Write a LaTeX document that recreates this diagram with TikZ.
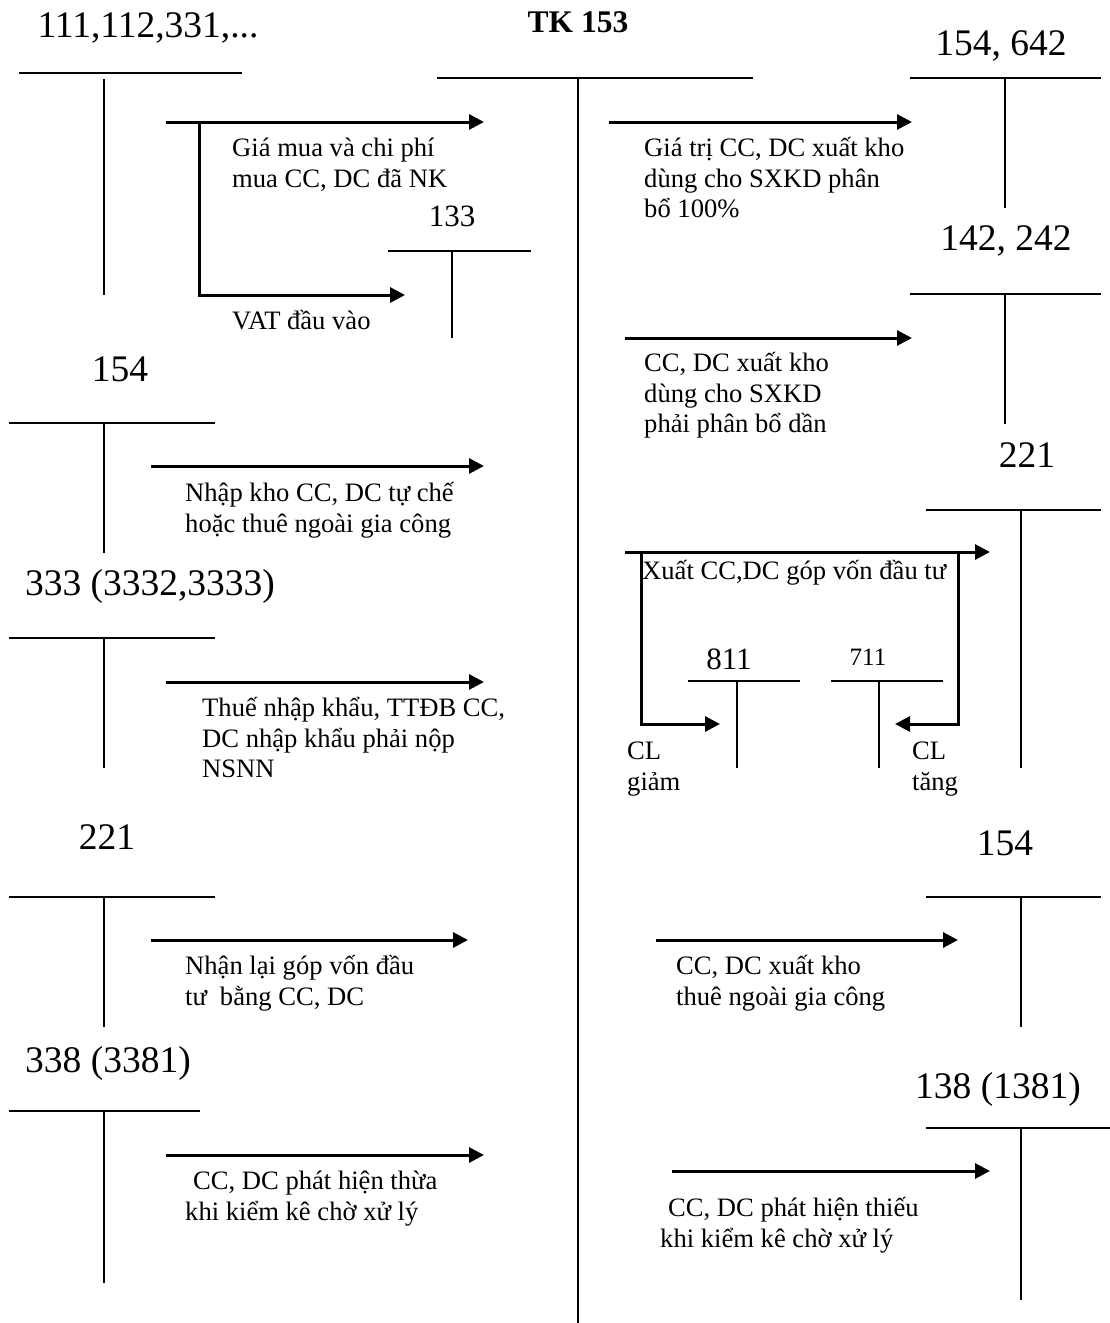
\documentclass[tikz,border=0pt]{standalone}
\usepackage{fontspec}
\setmainfont{Liberation Serif}
\usetikzlibrary{arrows.meta}
\begin{document}
\begin{tikzpicture}[x=1pt,y=-1pt,
  tline/.style={line width=1.7pt},
  flow/.style={line width=3pt,-{Triangle[length=15pt,width=15pt]}},
  accb/.style={font=\fontsize{37.5}{41}\selectfont,inner sep=0,anchor=base},
  accm/.style={font=\fontsize{31}{35}\selectfont,inner sep=0,anchor=base},
  accs/.style={font=\fontsize{25}{29}\selectfont,inner sep=0,anchor=base},
  lbl/.style={font=\fontsize{26.6}{30.5}\selectfont,align=left,anchor=north west,inner sep=0}]
\useasboundingbox (0,0) rectangle (1110,1323);

% ---------- TK 153 ----------
\node[accm,font=\fontsize{31.5}{35}\selectfont\bfseries] (tk) at (578,32) {TK 153};
\draw[tline] (437,78) -- (753,78);
\draw[tline] (578,78) -- (578,1323);

% ---------- left accounts ----------
\node[accb] (l1) at (148,37) {111,112,331,...};
\draw[tline] (19,73) -- (242,73);
\draw[tline] (104,79) -- (104,295);

\node[accm] (l133) at (452,226) {133};
\draw[tline] (388,251) -- (531,251);
\draw[tline] (452,251) -- (452,338);

\node[accb] (l2) at (120,381) {154};
\draw[tline] (9,423) -- (215,423);
\draw[tline] (104,423) -- (104,553);

\node[accb] (l3) at (150,595) {333 (3332,3333)};
\draw[tline] (9,638) -- (215,638);
\draw[tline] (104,638) -- (104,768);

\node[accb] (l4) at (107,849) {221};
\draw[tline] (9,897) -- (215,897);
\draw[tline] (104,897) -- (104,1027);

\node[accb] (l5) at (108,1072) {338 (3381)};
\draw[tline] (9,1111) -- (200,1111);
\draw[tline] (104,1111) -- (104,1283);

% ---------- right accounts ----------
\node[accb] (r1) at (1001,55) {154, 642};
\draw[tline] (910,78) -- (1101,78);
\draw[tline] (1005,78) -- (1005,208);

\node[accb] (r2) at (1006,250) {142, 242};
\draw[tline] (910,294) -- (1101,294);
\draw[tline] (1005,294) -- (1005,424);

\node[accb] (r3) at (1027,467) {221};
\draw[tline] (926,510) -- (1101,510);
\draw[tline] (1021,510) -- (1021,768);

\node[accm] (r811) at (729,669) {811};
\draw[tline] (688,681) -- (800,681);
\draw[tline] (737,681) -- (737,768);

\node[accs] (r711) at (868,665) {711};
\draw[tline] (831,681) -- (943,681);
\draw[tline] (879,681) -- (879,768);

\node[accb] (r4) at (1005,855) {154};
\draw[tline] (926,897) -- (1101,897);
\draw[tline] (1021,897) -- (1021,1027);

\node[accb] (r5) at (998,1098) {138 (1381)};
\draw[tline] (926,1128) -- (1110,1128);
\draw[tline] (1021,1128) -- (1021,1300);

% ---------- left arrows ----------
\coordinate (a1s) at (166,122); \coordinate (a1e) at (484,122);
\coordinate (a1b) at (199,122); \coordinate (vat) at (405,295);
\draw[flow] (a1s) -- (a1e);
\draw[flow] (a1b) |- (vat);
\node[lbl] (t1) at (232,135) {\strut Giá mua và chi phí\\mua CC, DC đã NK};
\node[lbl] (tvat) at (232,308) {\strut VAT đầu vào};

\coordinate (a2s) at (151,466); \coordinate (a2e) at (484,466);
\draw[flow] (a2s) -- (a2e);
\node[lbl] (t2) at (185,480) {\strut Nhập kho CC, DC tự chế\\hoặc thuê ngoài gia công};

\coordinate (a3s) at (166,682); \coordinate (a3e) at (484,682);
\draw[flow] (a3s) -- (a3e);
\node[lbl] (t3) at (202,695) {\strut Thuế nhập khẩu, TTĐB CC,\\DC nhập khẩu phải nộp\\NSNN};

\coordinate (a4s) at (151,940); \coordinate (a4e) at (468,940);
\draw[flow] (a4s) -- (a4e);
\node[lbl] (t4) at (185,953) {\strut Nhận lại góp vốn đầu\\tư\hspace*{13pt}bằng CC, DC};

\coordinate (a5s) at (166,1155); \coordinate (a5e) at (484,1155);
\draw[flow] (a5s) -- (a5e);
\node[lbl] (t5) at (185,1168) {\strut\hspace*{8pt}CC, DC phát hiện thừa\\khi kiểm kê chờ xử lý};

% ---------- right arrows ----------
\coordinate (b1s) at (609,122); \coordinate (b1e) at (912,122);
\draw[flow] (b1s) -- (b1e);
\node[lbl] (u1) at (644,135) {\strut Giá trị CC, DC xuất kho\\dùng cho SXKD phân\\bổ 100\%};

\coordinate (b2s) at (625,338); \coordinate (b2e) at (912,338);
\draw[flow] (b2s) -- (b2e);
\node[lbl] (u2) at (644,350) {\strut CC, DC xuất kho\\dùng cho SXKD\\phải phân bổ dần};

\coordinate (b3s) at (625,552); \coordinate (b3e) at (990,552);
\coordinate (b3l) at (641,552); \coordinate (b3r) at (958,552);
\coordinate (cl1) at (720,724); \coordinate (cl2) at (895,724);
\draw[flow] (b3s) -- (b3e);
\draw[flow] (b3l) |- (cl1);
\draw[flow] (b3r) |- (cl2);
\node[lbl] (u3) at (642,558) {\strut Xuất CC,DC góp vốn đầu tư};
\node[lbl] (ug) at (627,738) {\strut CL\\giảm};
\node[lbl] (ut) at (912,738) {\strut CL\\tăng};

\coordinate (b4s) at (656,940); \coordinate (b4e) at (958,940);
\draw[flow] (b4s) -- (b4e);
\node[lbl] (u4) at (676,953) {\strut CC, DC xuất kho\\thuê ngoài gia công};

\coordinate (b5s) at (672,1171); \coordinate (b5e) at (990,1171);
\draw[flow] (b5s) -- (b5e);
\node[lbl] (u5) at (660,1195) {\strut\hspace*{8pt}CC, DC phát hiện thiếu\\khi kiểm kê chờ xử lý};
\end{tikzpicture}
\end{document}
